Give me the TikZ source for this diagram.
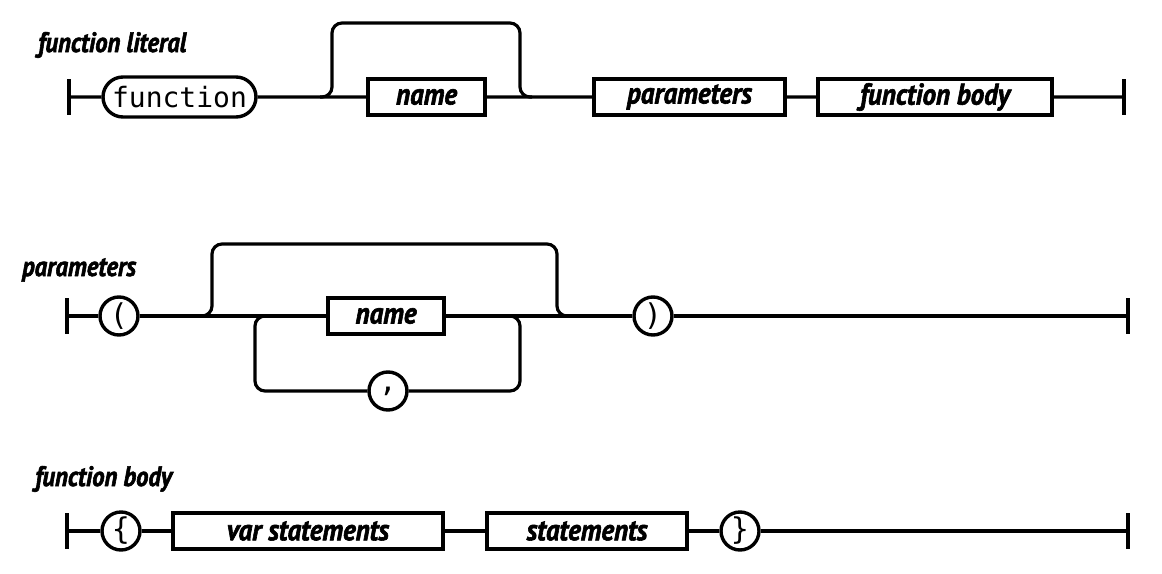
\documentclass[tikz,border=0pt]{standalone}
\usepackage{fontspec}
\usepackage{tikz}
\usetikzlibrary{shapes.misc,calc}
\newfontfamily\dgmfont{PT Sans}[BoldItalicFeatures={FakeStretch=0.88,FakeBold=2}]
\newfontfamily\dgmboxfont{PT Sans}[BoldItalicFeatures={FakeStretch=0.9,FakeBold=2}]
\newfontfamily\dgmmonofont{DejaVu Sans Mono}
\newcommand\dgmlab{\dgmfont\bfseries\itshape\fontsize{28}{30}\selectfont}
\newcommand\dgmbox{\dgmboxfont\bfseries\itshape\fontsize{30}{32}\selectfont}
\newcommand\dgmmono{\dgmmonofont\fontsize{28}{30}\selectfont}
\newcommand\dgmchar{\dgmmonofont\fontsize{30}{32}\selectfont}
\tikzset{
  nt/.style={draw,line width=3.4pt,font=\dgmbox,minimum height=36pt,inner sep=0pt},
  tm/.style={draw,rounded rectangle,line width=3.4pt,font=\dgmmono,minimum height=40pt,inner sep=0pt},
  ch/.style={draw,circle,line width=3.4pt,font=\dgmchar,minimum size=38pt,inner sep=0pt},
  ln/.style={line width=3.2pt},
  ttl/.style={font=\dgmlab,anchor=base west,inner sep=0pt}
}
\begin{document}
\begin{tikzpicture}[x=1pt,y=-1pt]
\useasboundingbox (0,0) rectangle (1162,573);
% function literal
\node[ttl] (t1) at (38,52) {function literal};
\coordinate (a0) at (69,97);
\node[tm,minimum width=153pt] (fn) at (179.5,97) {function};
\node[nt,minimum width=117pt] (nm1) at (426.5,97) {name};
\node[nt,minimum width=191pt] (pr) at (689.5,97) {parameters};
\node[nt,minimum width=234pt] (fb) at (935,97) {function body};
\coordinate (a9) at (1124,97);
\draw[ln] (a0) -- (fn) -- (nm1) -- (pr) -- (fb) -- (a9);
\coordinate (j1) at (332,97); \coordinate (j2) at (520,97);
\draw[ln,rounded corners=10pt] ($(j1)+(-12,0)$) -| ($(j1)+(0,-74)$) -| (j2) -- ++(12,0);
% parameters
\node[ttl] (t2) at (22,276) {parameters};
\coordinate (b0) at (67,316);
\node[ch] (lp) at (119,316) {(};
\node[nt,minimum width=116pt] (nm2) at (386,316) {name};
\node[ch] (cm) at (388,391) {,};
\node[ch] (rp) at (653,316) {)};
\coordinate (b9) at (1128,316);
\draw[ln] (b0) -- (lp) -- (nm2) -- (rp) -- (b9);
\coordinate (k1) at (212,316); \coordinate (k2) at (557,316);
\draw[ln,rounded corners=10pt] ($(k1)+(-12,0)$) -| ($(k1)+(0,-72)$) -| (k2) -- ++(12,0);
\coordinate (m1) at (255,316); \coordinate (m2) at (520,316);
\draw[ln,rounded corners=10pt] (cm.west) -| (m1) -- ++(12,0);
\draw[ln,rounded corners=10pt] (cm.east) -| (m2) -- ++(-12,0);
% function body
\node[ttl] (t3) at (35,486) {function body};
\coordinate (c0) at (67,531);
\node[ch] (lb) at (121,531) {\{};
\node[nt,minimum width=270pt] (vs) at (308,531) {var statements};
\node[nt,minimum width=200pt] (st) at (587,531) {statements};
\node[ch] (rb) at (740,531) {\}};
\coordinate (c9) at (1128,531);
\draw[ln] (c0) -- (lb) -- (vs) -- (st) -- (rb) -- (c9);
% end bars
\foreach \c in {a0,a9,b0,b9,c0,c9} \draw[ln] (\c) ++(0,-18) -- ++(0,36);
\end{tikzpicture}
\end{document}
